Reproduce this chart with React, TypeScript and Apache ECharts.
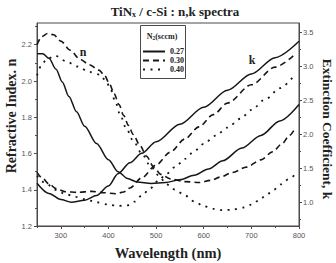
import React, { useEffect, useRef } from "react";
import * as echarts from "echarts";

// Series names (N2 flow, sccm)
const flowNames = ["0.27", "0.30", "0.40"];

// Axis ticks and labels
const xLabelValues = [300, 400, 500, 600, 700, 800];
const xMinorValues = [250, 350, 450, 550, 650, 750];
const nLabelValues = [1.2, 1.4, 1.6, 1.8, 2.0, 2.2];
const nMinorValues = [1.3, 1.5, 1.7, 1.9, 2.1, 2.3];
const kLabelValues = [1.0, 1.5, 2.0, 2.5, 3.0, 3.5];
const kMinorValues = [0.75, 1.25, 1.75, 2.25, 2.75, 3.25];

// Refractive index n: [wavelength nm, n]
const n027: [number, number][] = [
  [250, 2.15], [262, 2.15], [275, 2.125], [290, 2.065], [303, 1.995], [317, 1.915],
  [333, 1.83], [350, 1.75], [375, 1.655], [400, 1.565], [420, 1.5], [440, 1.462],
  [460, 1.443], [490, 1.435], [520, 1.44], [550, 1.455], [580, 1.48], [610, 1.515],
  [640, 1.56], [680, 1.63], [720, 1.7], [760, 1.78], [800, 1.87],
];
const n030: [number, number][] = [
  [250, 2.2], [260, 2.245], [272, 2.262], [285, 2.255], [300, 2.22], [320, 2.17],
  [340, 2.12], [360, 2.09], [380, 2.06], [392, 2.03], [402, 1.985], [412, 1.93],
  [422, 1.87], [432, 1.81], [442, 1.755], [452, 1.705], [466, 1.645], [480, 1.585],
  [495, 1.525], [510, 1.485], [530, 1.46], [560, 1.445], [590, 1.44], [615, 1.452],
  [635, 1.47], [660, 1.495], [690, 1.525], [720, 1.565], [745, 1.61], [765, 1.655],
  [780, 1.7], [792, 1.74],
];
const n040: [number, number][] = [
  [250, 2.03], [258, 2.08], [270, 2.12], [288, 2.14], [310, 2.11], [335, 2.08],
  [360, 2.05], [382, 2.035], [395, 2.0], [405, 1.95], [415, 1.88], [425, 1.81],
  [437, 1.74], [452, 1.67], [470, 1.6], [487, 1.535], [505, 1.48], [522, 1.43],
  [540, 1.4], [560, 1.37], [580, 1.335], [600, 1.31], [620, 1.295], [640, 1.287],
  [660, 1.29], [685, 1.302], [700, 1.318], [715, 1.34], [730, 1.367], [747, 1.4],
  [762, 1.43], [779, 1.46], [790, 1.48],
];

// Extinction coefficient k: [wavelength nm, k]
const k027: [number, number][] = [
  [250, 1.28], [275, 1.13], [300, 1.04], [322, 1.0], [350, 1.03], [375, 1.1],
  [400, 1.24], [420, 1.42], [445, 1.58], [470, 1.72], [500, 1.89], [550, 2.15],
  [600, 2.4], [650, 2.65], [700, 2.89], [750, 3.13], [800, 3.37],
];
const k030: [number, number][] = [
  [250, 1.44], [262, 1.35], [275, 1.27], [290, 1.2], [310, 1.155], [335, 1.145],
  [365, 1.16], [390, 1.14], [415, 1.125], [432, 1.15], [445, 1.21], [470, 1.36],
  [500, 1.55], [530, 1.74], [560, 1.93], [590, 2.11], [620, 2.29], [650, 2.46],
  [700, 2.73], [750, 2.99], [790, 3.17],
];
const k040: [number, number][] = [
  [250, 1.39], [270, 1.27], [290, 1.18], [310, 1.12], [330, 1.08], [350, 1.045],
  [375, 1.0], [400, 0.965], [420, 0.945], [440, 0.955], [455, 1.01], [470, 1.1],
  [487, 1.2], [505, 1.32], [522, 1.42], [540, 1.52], [561, 1.64], [580, 1.75],
  [600, 1.86], [625, 1.98], [650, 2.1], [677, 2.23], [700, 2.36], [730, 2.52],
  [760, 2.68], [787, 2.84],
];

const SERIF = "'Liberation Serif', 'Times New Roman', serif";
const SANS = "'Liberation Sans', Arial, sans-serif";
const INK = "#161616";
const AXIS = "#4a4a4a";

const dashStyles: (string | number[])[] = ["solid", [6, 4], [2, 5.5]];
const widths = [1.5, 1.6, 1.8];

function lineSeries(name: string, data: [number, number][], idx: number, yAxisIndex: number) {
  return {
    type: "line",
    name,
    data,
    xAxisIndex: 0,
    yAxisIndex,
    smooth: 0.3,
    smoothMonotone: "x",
    symbol: "none",
    showSymbol: false,
    lineStyle: { color: INK, width: widths[idx], type: dashStyles[idx] },
    itemStyle: { color: INK },
    z: 2,
  };
}

export default function App() {
  const ref = useRef<HTMLDivElement>(null);

  useEffect(() => {
    document.body.style.margin = "0";
    if (!ref.current) return;
    const chart = echarts.init(ref.current, null, { renderer: "svg" });

    const axisLine = { show: true, lineStyle: { color: AXIS, width: 1 } };
    const labelStyle = { fontFamily: SANS, fontSize: 7.5, color: "#555" };

    chart.setOption({
      animation: false,
      backgroundColor: "#ffffff",
      grid: {
        left: 37,
        right: 37,
        top: 23,
        bottom: 37,
        show: true,
        borderColor: AXIS,
        borderWidth: 1,
        backgroundColor: "transparent",
      },
      xAxis: [
        {
          type: "value",
          min: 250,
          max: 800,
          position: "bottom",
          axisLine,
          axisTick: { show: true, customValues: xLabelValues, length: 3, lineStyle: { color: AXIS } },
          axisLabel: {
            show: true,
            customValues: xLabelValues,
            margin: 5,
            ...labelStyle,
          },
          splitLine: { show: false },
        },
        {
          type: "value",
          min: 250,
          max: 800,
          position: "bottom",
          axisLine: { show: false },
          axisTick: { show: true, customValues: xMinorValues, length: 2, lineStyle: { color: AXIS } },
          axisLabel: { show: false },
          splitLine: { show: false },
        },
      ],
      yAxis: [
        {
          type: "value",
          min: 1.2,
          max: 2.32,
          position: "left",
          axisLine,
          axisTick: { show: true, customValues: nLabelValues, length: 3, lineStyle: { color: AXIS } },
          axisLabel: {
            show: true,
            customValues: nLabelValues,
            margin: 5,
            formatter: (v: number) => v.toFixed(1),
            ...labelStyle,
          },
          splitLine: { show: false },
        },
        {
          type: "value",
          min: 0.65,
          max: 3.64,
          position: "right",
          axisLine,
          axisTick: { show: true, customValues: kLabelValues, length: 3, lineStyle: { color: AXIS } },
          axisLabel: {
            show: true,
            customValues: kLabelValues,
            margin: 4,
            formatter: (v: number) => v.toFixed(1),
            ...labelStyle,
          },
          splitLine: { show: false },
        },
        {
          type: "value",
          min: 1.2,
          max: 2.32,
          position: "left",
          axisLine: { show: false },
          axisTick: { show: true, customValues: nMinorValues, length: 2, lineStyle: { color: AXIS } },
          axisLabel: { show: false },
          splitLine: { show: false },
        },
        {
          type: "value",
          min: 0.65,
          max: 3.64,
          position: "right",
          axisLine: { show: false },
          axisTick: { show: true, customValues: kMinorValues, length: 2, lineStyle: { color: AXIS } },
          axisLabel: { show: false },
          splitLine: { show: false },
        },
      ],
      legend: {
        orient: "vertical",
        left: 142,
        top: 47.5,
        padding: 0,
        itemWidth: 22,
        itemHeight: 10,
        itemGap: 1,
        selectedMode: false,
        data: flowNames,
        itemStyle: { opacity: 0 },
        textStyle: { fontFamily: SERIF, fontWeight: "bold", fontSize: 8, color: "#222" },
        z: 6,
      },
      graphic: [
        {
          type: "rect",
          shape: { x: 140.5, y: 25.5, width: 45, height: 53 },
          style: { fill: "#ffffff", stroke: AXIS, lineWidth: 1 },
          z: 5,
        },
        {
          type: "text",
          x: 162,
          y: 36,
          z: 6,
          style: {
            text: "{a|N}{s|2}{a|(sccm)}",
            textAlign: "center",
            textVerticalAlign: "middle",
            fill: "#222",
            rich: {
              a: { fontFamily: SERIF, fontWeight: "bold", fontSize: 8, fill: "#222" },
              s: { fontFamily: SERIF, fontWeight: "bold", fontSize: 5.5, fill: "#222", padding: [4, 0, 0, 0] },
            },
          },
        },
        {
          type: "text",
          x: 175,
          y: 11,
          style: {
            text: "{a|TiN}{s|x}{a| / c-Si : n,k spectra}",
            textAlign: "center",
            textVerticalAlign: "middle",
            fill: "#222",
            rich: {
              a: { fontFamily: SERIF, fontWeight: "bold", fontSize: 13, fill: "#222" },
              s: { fontFamily: SERIF, fontWeight: "bold", fontSize: 8, fill: "#222", padding: [7, 0, 0, 0] },
            },
          },
        },
        {
          type: "text",
          x: 168,
          y: 253,
          style: {
            text: "Wavelength (nm)",
            textAlign: "center",
            textVerticalAlign: "middle",
            fontFamily: SERIF,
            fontWeight: "bold",
            fontSize: 14.5,
            fill: "#222",
          },
        },
        {
          type: "text",
          x: 11,
          y: 116,
          rotation: Math.PI / 2,
          style: {
            text: "Refractive Index. n",
            textAlign: "center",
            textVerticalAlign: "middle",
            fontFamily: SERIF,
            fontWeight: "bold",
            fontSize: 14,
            fill: "#222",
          },
        },
        {
          type: "text",
          x: 327,
          y: 129,
          rotation: -Math.PI / 2,
          style: {
            text: "Extinction Coefficient, k",
            textAlign: "center",
            textVerticalAlign: "middle",
            fontFamily: SERIF,
            fontWeight: "bold",
            fontSize: 13.5,
            fill: "#222",
          },
        },
        {
          type: "text",
          x: 83,
          y: 52,
          style: {
            text: "n",
            textAlign: "center",
            textVerticalAlign: "middle",
            fontFamily: SERIF,
            fontWeight: "bold",
            fontSize: 12,
            fill: "#222",
          },
        },
        {
          type: "text",
          x: 252,
          y: 60,
          style: {
            text: "k",
            textAlign: "center",
            textVerticalAlign: "middle",
            fontFamily: SERIF,
            fontWeight: "bold",
            fontSize: 12,
            fill: "#222",
          },
        },
      ],
      series: [
        lineSeries(flowNames[0], n027, 0, 0),
        lineSeries(flowNames[1], n030, 1, 0),
        lineSeries(flowNames[2], n040, 2, 0),
        lineSeries(flowNames[0], k027, 0, 1),
        lineSeries(flowNames[1], k030, 1, 1),
        lineSeries(flowNames[2], k040, 2, 1),
      ],
    });

    return () => chart.dispose();
  }, []);

  return <div ref={ref} style={{ width: 336, height: 263 }} />;
}
